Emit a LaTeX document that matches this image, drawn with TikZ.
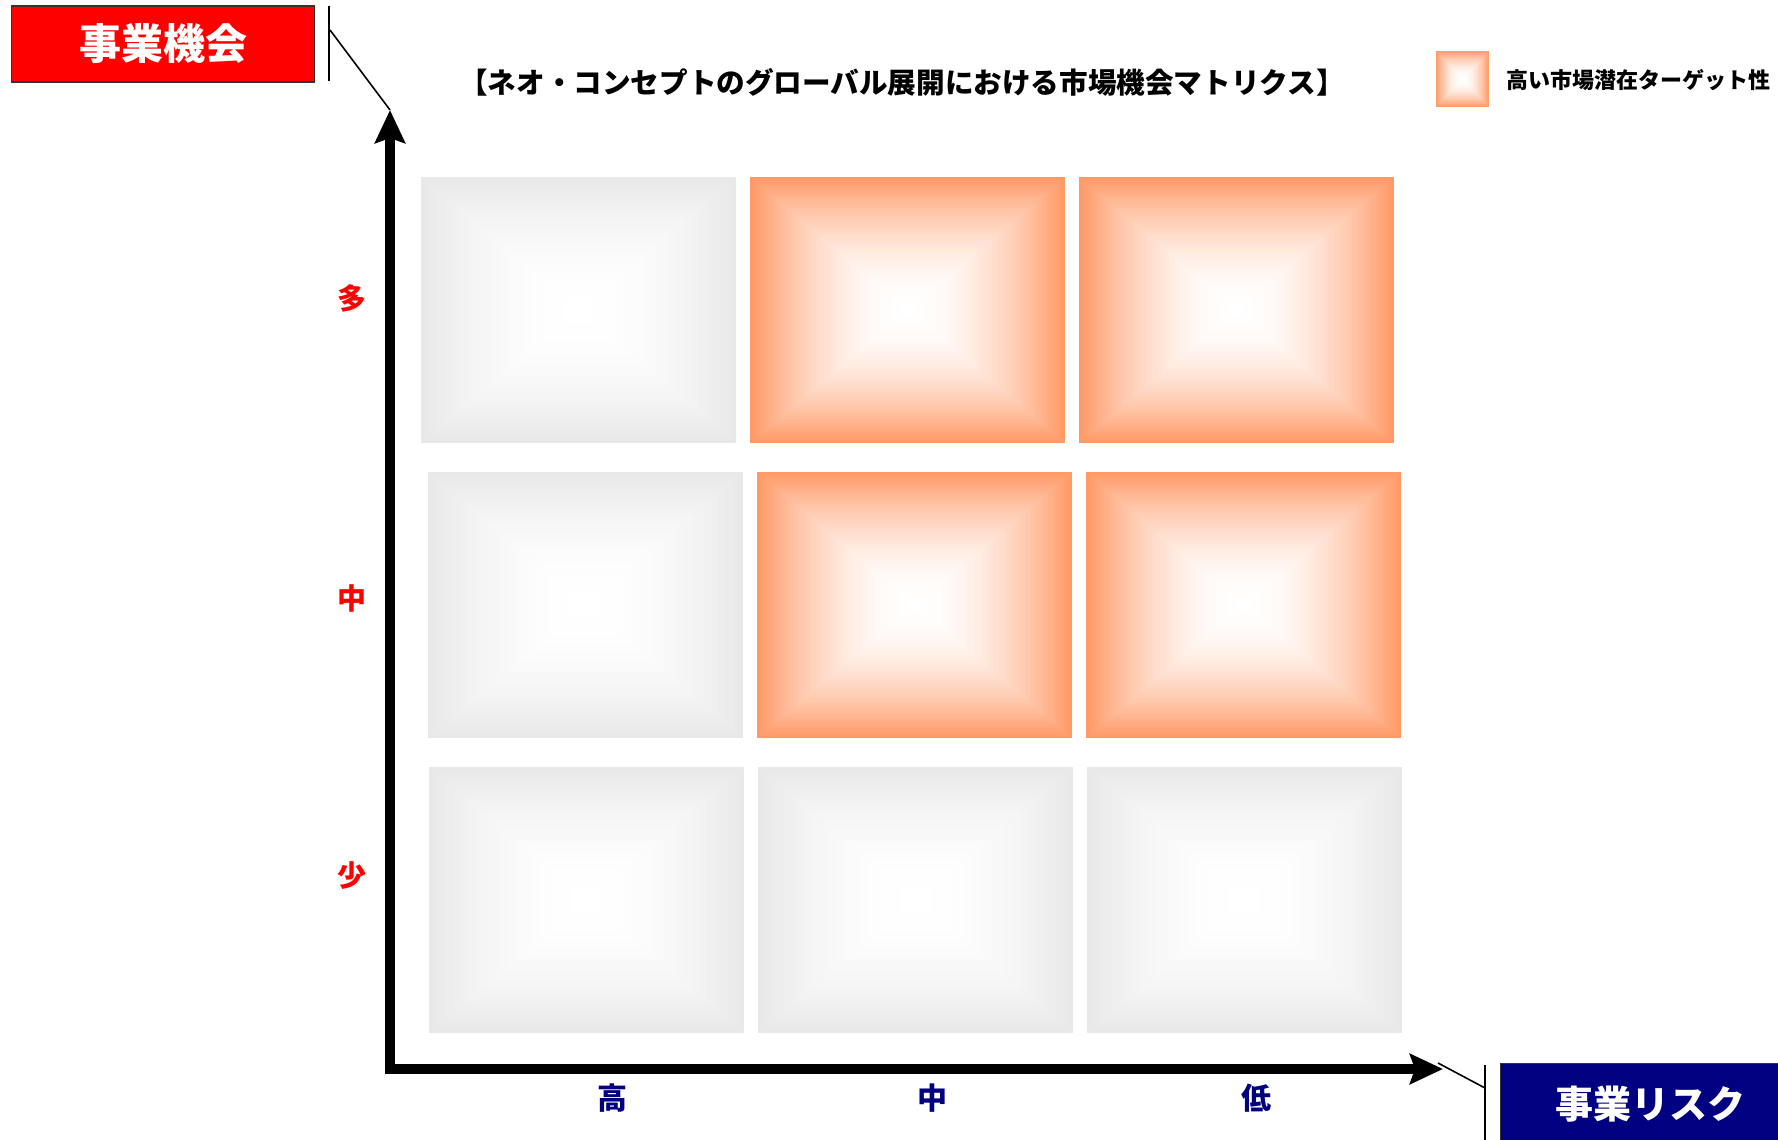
\documentclass[tikz,border=0pt]{standalone}
\usepackage{fontspec}
\newfontfamily\jp{Noto Sans CJK JP}
\usetikzlibrary{arrows.meta}
\definecolor{orng}{HTML}{FF9966}
\definecolor{lgray}{HTML}{E8E8E8}
\definecolor{navyc}{HTML}{000080}
\definecolor{boxred}{HTML}{FF0000}
\definecolor{edgec}{HTML}{333333}
\tikzset{
  cellbox/.style={draw=none, inner sep=0pt, outer sep=0pt, rectangle},
  axisline/.style={line width=10pt, line join=miter, black},
  callout/.style={line width=1.6pt, black},
  calloutbar/.style={line width=2.4pt, black},
  rowlab/.style={font=\jp\bfseries\fontsize{29}{32}\selectfont, text=boxred},
  collab/.style={font=\jp\bfseries\fontsize{30}{33}\selectfont, text=navyc},
  headbox/.style={draw=edgec, line width=1.2pt, inner sep=0pt, text=white},
}
\newcommand\gradcell[6]{%
  \foreach \gi in {60,59,...,1}{%
    \pgfmathsetmacro\gt{\gi/60}%
    \pgfmathtruncatemacro\gm{round(100*\gt^1.9)}%
    \fill[#6!\gm!white] ({#2-\gt*#4/2},{#3-\gt*#5/2}) rectangle ({#2+\gt*#4/2},{#3+\gt*#5/2});
  }%
  \node[cellbox, minimum width=#4pt, minimum height=#5pt] (#1) at (#2,#3) {};%
}
\begin{document}
\begin{tikzpicture}[x=1pt,y=-1pt]
\useasboundingbox (0,0) rectangle (1778,1140);
\clip (0,0) rectangle (1778,1140);
\fill[white] (0,0) rectangle (1778,1140);

% cells
\gradcell{c11}{578.5}{310}{315}{266}{lgray}
\gradcell{c12}{907.5}{310}{315}{266}{orng}
\gradcell{c13}{1236.5}{310}{315}{266}{orng}
\gradcell{c21}{585.5}{605}{315}{266}{lgray}
\gradcell{c22}{914.5}{605}{315}{266}{orng}
\gradcell{c23}{1243.5}{605}{315}{266}{orng}
\gradcell{c31}{586.5}{900}{315}{266}{lgray}
\gradcell{c32}{915.5}{900}{315}{266}{lgray}
\gradcell{c33}{1244.5}{900}{315}{266}{lgray}

% legend
\gradcell{leg}{1462.5}{79}{53}{56}{orng}
\node[anchor=west, font=\jp\bfseries\fontsize{22}{26}\selectfont] (legtxt) at (1503,80) {高い市場潜在ターゲット性};

% title
\node[font=\jp\bfseries\fontsize{28.6}{32}\selectfont] (title) at (902,82) {【ネオ・コンセプトのグローバル展開における市場機会マトリクス】};

% axes
\coordinate (ytip) at (390,110);
\coordinate (corner) at (390,1069);
\coordinate (xtip) at (1443,1069);
\draw[axisline, {Stealth[length=33pt, width=30pt, inset=5pt]}-{Stealth[length=33pt, width=30pt, inset=5pt]}] (ytip) -- (corner) -- (xtip);

% header boxes
\node[headbox, fill=boxred, minimum width=303pt, minimum height=76pt, font=\jp\bfseries\fontsize{42}{46}\selectfont] (opp) at (163,44) {事業機会};
\node[headbox, fill=navyc, minimum width=290pt, minimum height=90pt, anchor=north west] (risk) at (1500,1063) {};
\node[text=white, font=\jp\bfseries\fontsize{38}{42}\selectfont] (risktxt) at (1650,1104) {事業リスク};

% callouts
\coordinate (oppbarT) at (329,6);
\coordinate (oppbarB) at (329,81);
\coordinate (oppbarM) at (330,30);
\draw[calloutbar] (oppbarT) -- (oppbarB);
\draw[callout] (oppbarM) -- (ytip);
\coordinate (riskbarT) at (1485,1065);
\coordinate (riskbarB) at (1485,1145);
\coordinate (riskbarM) at (1485,1088);
\coordinate (xcall) at (1438,1063);
\draw[calloutbar] (riskbarT) -- (riskbarB);
\draw[callout] (xcall) -- (riskbarM);

% axis labels
\node[rowlab] (ltop) at (352,298) {多};
\node[rowlab] (lmid) at (352,598) {中};
\node[rowlab] (llow) at (352,876) {少};
\node[collab] (bhigh) at (612,1098) {高};
\node[collab] (bmid) at (932,1098) {中};
\node[collab] (blow) at (1256,1098) {低};
\end{tikzpicture}
\end{document}
